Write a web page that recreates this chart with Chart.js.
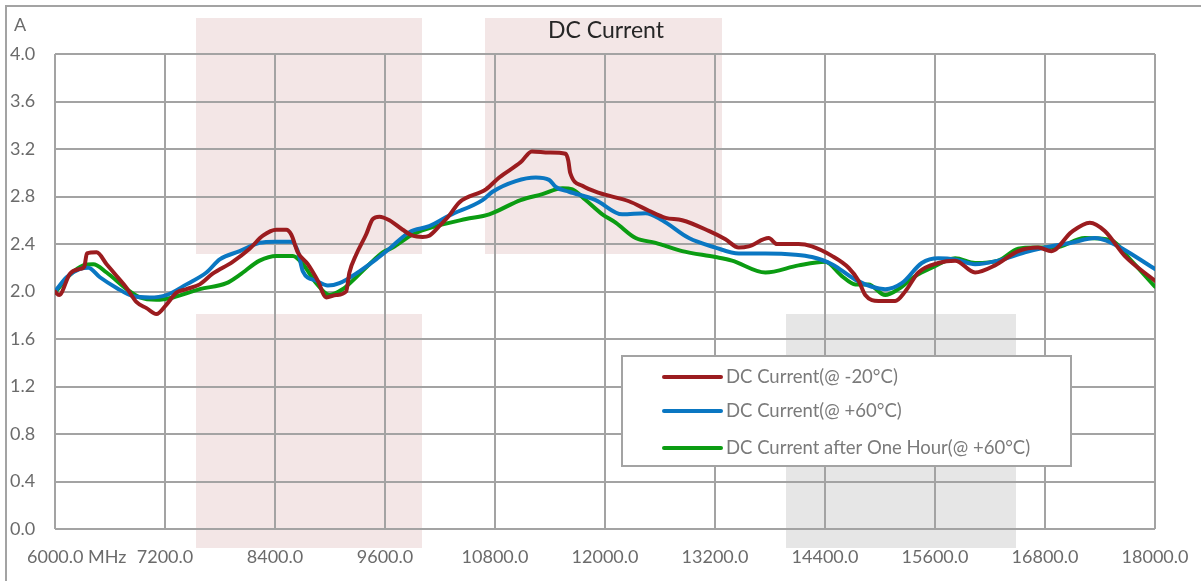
<!DOCTYPE html>
<html>
<head>
<meta charset="utf-8">
<title>DC Current</title>
<script src="https://cdn.jsdelivr.net/npm/chart.js@4.4.1/dist/chart.umd.min.js"></script>
<style>
  html, body { margin: 0; padding: 0; background: #fff; }
  #wrap { position: relative; width: 1201px; height: 581px; }
</style>
</head>
<body>
<div id="wrap"><canvas id="chart" width="1201" height="581"></canvas></div>
<script>
(function() {
  'use strict';

  // ==================== Data ====================
  const seriesLabels = [
    'DC Current(@ -20°C)',
    'DC Current(@ +60°C)',
    'DC Current after One Hour(@ +60°C)'
  ];

  const xTickValues = [6000, 7200, 8400, 9600, 10800, 12000, 13200, 14400, 15600, 16800, 18000];
  const xTickLabels = ['6000.0 MHz', '7200.0', '8400.0', '9600.0', '10800.0', '12000.0',
    '13200.0', '14400.0', '15600.0', '16800.0', '18000.0'];

  // -20°C (MHz / A)
  const coldFreq = [6000, 6044, 6163, 6272, 6320, 6348, 6454, 6563, 6672, 6781, 6890, 6998,
    7107, 7216, 7325, 7434, 7579, 7720, 7938, 8123, 8268, 8414, 8523, 8577, 8649, 8758,
    8867, 8959, 9067, 9176, 9212, 9285, 9394, 9466, 9539, 9648, 9793, 9902, 10010, 10083,
    10192, 10301, 10410, 10701, 10846, 11082, 11202, 11390, 11571, 11600, 11620, 11753,
    11935, 12261, 12479, 12660, 12842, 13132, 13314, 13459, 13568, 13786, 13876, 14112,
    14257, 14475, 14657, 14766, 14839, 14984, 15166, 15275, 15419, 15637, 15820, 16037,
    16255, 16508, 16726, 16871, 17088, 17289, 17452, 17669, 18000];
  const coldVals = [2.00, 1.97, 2.15, 2.19, 2.21, 2.32, 2.33, 2.23, 2.13, 2.03, 1.91, 1.86,
    1.81, 1.89, 1.99, 2.02, 2.06, 2.15, 2.25, 2.36, 2.47, 2.52, 2.52, 2.48, 2.33, 2.23,
    2.09, 1.95, 1.97, 2.00, 2.16, 2.31, 2.48, 2.61, 2.63, 2.60, 2.52, 2.47, 2.46, 2.47,
    2.55, 2.64, 2.75, 2.86, 2.96, 3.09, 3.18, 3.17, 3.16, 3.10, 3.00, 2.89,
    2.83, 2.76, 2.68, 2.62, 2.60, 2.51, 2.44, 2.37, 2.38, 2.45, 2.40, 2.40,
    2.38, 2.30, 2.20, 2.09, 1.97, 1.92, 1.92, 2.00, 2.16, 2.24, 2.26, 2.16,
    2.22, 2.34, 2.37, 2.34, 2.50, 2.58, 2.51, 2.30, 2.09];

  // +60°C
  const hotFreq = [6000, 6127, 6272, 6363, 6490, 6672, 6853, 7034, 7216, 7434, 7652, 7797,
    8015, 8232, 8400, 8577, 8649, 8704, 8850, 8976, 9103, 9321, 9503, 9648, 9866, 10083,
    10301, 10664, 10773, 11027, 11245, 11390, 11463, 11608, 11898, 12188, 12443, 12624,
    12915, 13205, 13459, 13750, 14076, 14257, 14475, 14730, 14911, 15057, 15238, 15456,
    15637, 15820, 16037, 16290, 16581, 16799, 17088, 17343, 17524, 18000];
  const hotVals = [2.00, 2.12, 2.19, 2.20, 2.12, 2.03, 1.96, 1.95, 1.97, 2.06, 2.16, 2.27,
    2.34, 2.41, 2.42, 2.42, 2.34, 2.17, 2.09, 2.05, 2.07, 2.17, 2.27, 2.36, 2.50, 2.55,
    2.64, 2.77, 2.84, 2.93, 2.96, 2.94, 2.88, 2.84, 2.77, 2.65, 2.66, 2.60,
    2.45, 2.37, 2.32, 2.32, 2.31, 2.29, 2.23, 2.10, 2.04, 2.02, 2.07, 2.24,
    2.28, 2.27, 2.23, 2.26, 2.33, 2.37, 2.41, 2.45, 2.41, 2.19];

  // +60°C after one hour
  const hourFreq = [6000, 6163, 6308, 6417, 6563, 6781, 6926, 7107, 7288, 7579, 7870, 8015,
    8232, 8414, 8595, 8704, 8850, 8995, 9139, 9285, 9430, 9575, 9684, 9902, 10156, 10483,
    10737, 11080, 11317, 11535, 11644, 11789, 11971, 12116, 12334, 12552, 12842, 13205,
    13386, 13750, 14112, 14402, 14584, 14730, 14874, 15057, 15201, 15384, 15565, 15820,
    16037, 16290, 16508, 16690, 16908, 17234, 17524, 17741, 18000];
  const hourVals = [1.99, 2.14, 2.22, 2.23, 2.16, 2.02, 1.95, 1.93, 1.95, 2.02, 2.07, 2.14,
    2.26, 2.30, 2.30, 2.23, 2.07, 1.97, 2.02, 2.12, 2.23, 2.33, 2.37, 2.48, 2.55, 2.61,
    2.65, 2.77, 2.82, 2.87, 2.86, 2.77, 2.65, 2.58, 2.45, 2.41, 2.34, 2.29,
    2.26, 2.16, 2.22, 2.25, 2.13, 2.06, 2.06, 1.97, 2.02, 2.13, 2.20, 2.28,
    2.24, 2.26, 2.36, 2.37, 2.37, 2.45, 2.43, 2.26, 2.04];

  // ==================== Styles ====================
  const FONT = "Lato, 'Noto Sans', 'DejaVu Sans', sans-serif";
  const GRID = '#a3a3a3';
  const TEXT = '#6b6b6b';
  const colors = ['#9b1c1f', '#0a77c2', '#0b9c12'];

  function points(freq, vals) {
    return freq.map((f, i) => ({ x: f, y: vals[i] }));
  }

  // ==================== Plugins ====================
  // Shaded panels behind the plot
  const backdrop = {
    id: 'backdrop',
    beforeDraw(chart) {
      const ctx = chart.ctx;
      ctx.save();
      ctx.fillStyle = '#ffffff';
      ctx.fillRect(0, 0, chart.width, chart.height);
      ctx.fillStyle = '#f3e6e6';
      ctx.fillRect(196, 18, 226, 236);
      ctx.fillRect(196, 314, 226, 234);
      ctx.fillRect(485, 18, 237, 236);
      ctx.fillStyle = '#e6e6e6';
      ctx.fillRect(786, 314, 230, 234);
      // outer frame
      ctx.strokeStyle = '#a3a3a3';
      ctx.lineWidth = 2;
      ctx.strokeRect(6, 6, chart.width + 10, chart.height + 10);
      ctx.restore();
    }
  };

  const overlay = {
    id: 'overlay',
    afterDraw(chart) {
      const ctx = chart.ctx;
      const xs = chart.scales.x;
      const area = chart.chartArea;
      ctx.save();

      // title
      ctx.fillStyle = '#262626';
      ctx.font = '23px ' + FONT;
      ctx.textAlign = 'center';
      ctx.textBaseline = 'middle';
      ctx.fillText('DC Current', 606, 31);

      // unit
      ctx.fillStyle = TEXT;
      ctx.font = '18px ' + FONT;
      ctx.textAlign = 'left';
      ctx.fillText('A', 14, 25);

      // x tick labels
      xTickValues.forEach((v, i) => {
        const px = xs.getPixelForValue(v);
        if (i === 0) {
          ctx.textAlign = 'left';
          ctx.fillText(xTickLabels[i], 27, area.bottom + 28);
        } else {
          ctx.textAlign = 'center';
          ctx.fillText(xTickLabels[i], px, area.bottom + 28);
        }
      });

      // legend box
      const lx = 622, ly = 356, lw = 449, lh = 110;
      ctx.fillStyle = '#ffffff';
      ctx.fillRect(lx, ly, lw, lh);
      ctx.strokeStyle = GRID;
      ctx.lineWidth = 2;
      ctx.strokeRect(lx, ly, lw, lh);
      const rows = [377, 411, 448];
      ctx.font = '18.5px ' + FONT;
      ctx.textAlign = 'left';
      chart.data.datasets.forEach((ds, i) => {
        ctx.strokeStyle = ds.borderColor;
        ctx.lineWidth = 4;
        ctx.lineCap = 'round';
        ctx.beginPath();
        ctx.moveTo(664, rows[i]);
        ctx.lineTo(721, rows[i]);
        ctx.stroke();
        ctx.fillStyle = '#7a7a7a';
        ctx.fillText(ds.label, 726, rows[i]);
      });
      ctx.restore();
    }
  };

  // ==================== Chart ====================
  function makeSet(i, freq, vals) {
    return {
      label: seriesLabels[i],
      data: points(freq, vals),
      borderColor: colors[i],
      backgroundColor: colors[i],
      borderWidth: 4,
      pointRadius: 0,
      fill: false,
      cubicInterpolationMode: 'monotone',
      borderCapStyle: 'round',
      borderJoinStyle: 'round'
    };
  }

  new Chart(document.getElementById('chart'), {
    type: 'line',
    data: {
      datasets: [
        makeSet(0, coldFreq, coldVals),
        makeSet(1, hotFreq, hotVals),
        makeSet(2, hourFreq, hourVals)
      ]
    },
    options: {
      responsive: false,
      animation: false,
      layout: { padding: { left: 10, right: 46, top: 54, bottom: 52 } },
      plugins: {
        legend: { display: false },
        tooltip: { enabled: false },
        title: { display: false }
      },
      scales: {
        x: {
          type: 'linear',
          min: 6000,
          max: 18000,
          ticks: { display: false, stepSize: 1200 },
          grid: { color: GRID, lineWidth: 2, drawTicks: false },
          border: { display: false },
          afterFit(scale) { scale.height = 0; }
        },
        y: {
          min: 0,
          max: 4,
          ticks: {
            stepSize: 0.4,
            crossAlign: 'far',
            color: TEXT,
            font: { family: FONT, size: 18 },
            callback: v => v.toFixed(1)
          },
          grid: { color: GRID, lineWidth: 2, drawTicks: false },
          border: { display: false },
          afterFit(scale) { scale.width = 45; }
        }
      }
    },
    plugins: [backdrop, overlay]
  });
})();
</script>
</body>
</html>
